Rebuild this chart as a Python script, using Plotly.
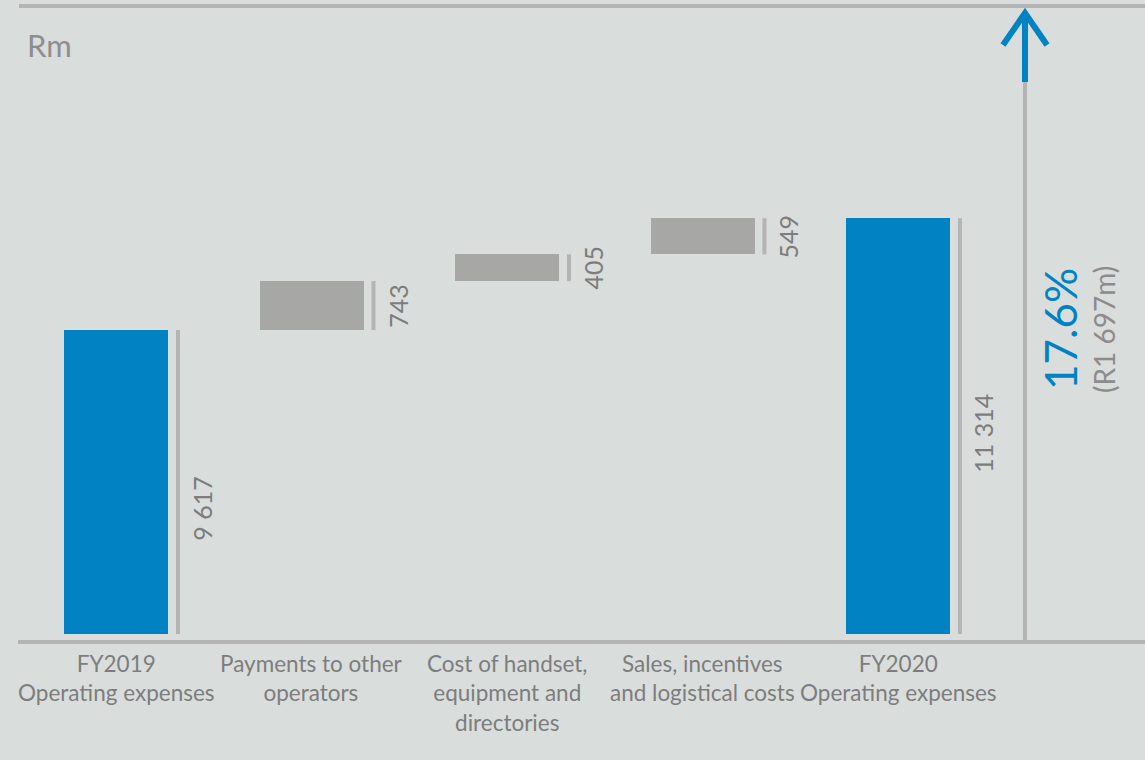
import plotly.graph_objects as go

# Operating expenses bridge, FY2019 -> FY2020 (Rm)
categories = [
    "FY2019<br>Operating expenses",
    "Payments to other<br>operators",
    "Cost of handset,<br>equipment and<br>directories",
    "Sales, incentives<br>and logistical costs",
    "FY2020<br>Operating expenses",
]
opening_total = 9617
increments = [743, 405, 549]
closing_total = 11314
value_labels = ["9 617", "743", "405", "549", "11 314"]
change_pct = "17.6%"
change_abs = "(R1 697m)"
unit_label = "Rm"

AXIS_FLOOR = 5000          # value axis is cut at this level

W, H = 1145, 760
PLOT_BOTTOM_PX = 641       # pixel row of the category axis line
FLOOR_PX = 634             # pixel row where bars start
PX_PER_UNIT = 0.06584
CAT_SPACING_PX = 195.5
FIRST_CAT_PX = 116

BLUE = "#0082c3"
BAR_GREY = "#a7a7a5"
LINE_GREY = "#b3b4b3"
TEXT_GREY = "#7d7d7d"
BG = "#d9dddc"
FONT = "Lato"

# bar geometry from the data
n = len(categories)
xs = list(range(n))
tops, bases, colors = [], [], []
running = opening_total
tops.append(opening_total); bases.append(AXIS_FLOOR); colors.append(BLUE)
for inc in increments:
    bases.append(running)
    running += inc
    tops.append(running)
    colors.append(BAR_GREY)
tops.append(closing_total); bases.append(AXIS_FLOOR); colors.append(BLUE)
heights = [t - b for t, b in zip(tops, bases)]

fig = go.Figure()
fig.add_trace(go.Bar(
    x=xs, y=heights, base=bases, width=0.532,
    marker=dict(color=colors, line=dict(width=0)),
    hoverinfo="skip", showlegend=False,
))

# thin span markers to the right of each bar
line_off = 0.317
lx, ly = [], []
for i in xs:
    lx += [i + line_off, i + line_off, None]
    ly += [bases[i], tops[i], None]
fig.add_trace(go.Scatter(
    x=lx, y=ly, mode="lines",
    line=dict(color=LINE_GREY, width=4),
    hoverinfo="skip", showlegend=False,
))

# axis ranges in data units
y_lo = AXIS_FLOOR - (PLOT_BOTTOM_PX - FLOOR_PX) / PX_PER_UNIT
y_hi = AXIS_FLOOR + FLOOR_PX / PX_PER_UNIT
x_lo = -FIRST_CAT_PX / CAT_SPACING_PX
x_hi = x_lo + W / CAT_SPACING_PX

def px(xp):
    return xp / W

def py(yp):
    return (PLOT_BOTTOM_PX - yp) / PLOT_BOTTOM_PX

annotations = []
label_off = 0.438
label_shift = [-27, 0, 0, 0, -7]
for i in xs:
    annotations.append(dict(
        x=i + label_off, y=(bases[i] + tops[i]) / 2, xref="x", yref="y",
        text=value_labels[i], textangle=-90, showarrow=False,
        xanchor="center", yanchor="middle", yshift=label_shift[i],
        font=dict(family=FONT, size=25, color=TEXT_GREY),
    ))
    annotations.append(dict(
        x=i, y=py(648), xref="x", yref="paper",
        text=categories[i], showarrow=False,
        xanchor="center", yanchor="top", align="center",
        font=dict(family=FONT, size=22.5, color=TEXT_GREY),
    ))

annotations.append(dict(
    x=px(25), y=py(45), xref="paper", yref="paper", text=unit_label,
    showarrow=False, xanchor="left", yanchor="middle",
    font=dict(family=FONT, size=31, color="#8e8e8e"),
))
annotations.append(dict(
    x=px(1060), y=py(329), xref="paper", yref="paper", text=change_pct,
    textangle=-90, showarrow=False, xanchor="center", yanchor="middle",
    font=dict(family=FONT, size=44, color=BLUE),
))
annotations.append(dict(
    x=px(1104), y=py(330), xref="paper", yref="paper", text=change_abs,
    textangle=-90, showarrow=False, xanchor="center", yanchor="middle",
    font=dict(family=FONT, size=28, color="#8c8c8c"),
))

shapes = [
    # top rule
    dict(type="line", xref="paper", yref="paper",
         x0=px(19), x1=px(1145), y0=py(6), y1=py(6),
         line=dict(color=LINE_GREY, width=4)),
    # category axis line
    dict(type="line", xref="paper", yref="paper",
         x0=px(18), x1=px(1145), y0=py(642), y1=py(642),
         line=dict(color=LINE_GREY, width=4)),
    # change indicator: grey stem
    dict(type="line", xref="paper", yref="paper",
         x0=px(1025), x1=px(1025), y0=py(80), y1=py(642),
         line=dict(color=LINE_GREY, width=4)),
    # blue arrow shaft
    dict(type="line", xref="paper", yref="paper",
         x0=px(1025), x1=px(1025), y0=py(14), y1=py(82),
         line=dict(color=BLUE, width=6)),
    # blue arrow head
    dict(type="path", xref="paper", yref="paper",
         path=f"M {px(1003)},{py(45)} L {px(1025)},{py(13)} L {px(1047)},{py(45)}",
         line=dict(color=BLUE, width=6)),
]

fig.update_layout(
    width=W, height=H,
    margin=dict(l=0, r=0, t=0, b=H - PLOT_BOTTOM_PX, pad=0),
    paper_bgcolor=BG, plot_bgcolor=BG,
    xaxis=dict(range=[x_lo, x_hi], visible=False, fixedrange=True),
    yaxis=dict(range=[y_lo, y_hi], visible=False, fixedrange=True),
    annotations=annotations, shapes=shapes,
    bargap=0, showlegend=False,
)

fig.write_html("out.html", config={"displayModeBar": False})
